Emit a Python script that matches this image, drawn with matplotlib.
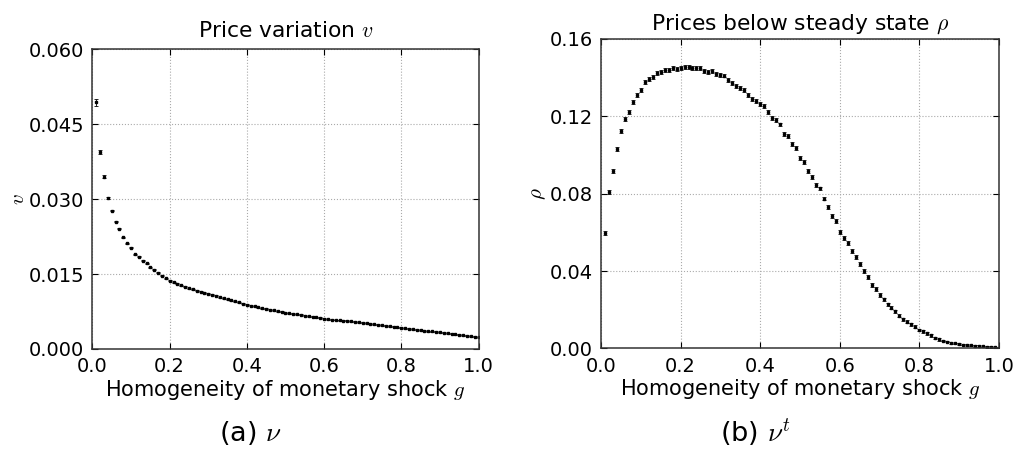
import matplotlib
matplotlib.use('Agg')
import matplotlib.pyplot as plt
import numpy as np

plt.rcParams['mathtext.fontset'] = 'cm'
plt.rcParams['font.family'] = 'DejaVu Sans'

# homogeneity of the monetary shock
g = [round(0.01 * i, 2) for i in range(1, 101)]

# price variation v
v = [0.0494, 0.0394, 0.0345, 0.0302, 0.0277, 0.0255, 0.0241, 0.0224, 0.0212, 0.0203,
     0.0190, 0.0185, 0.0177, 0.0172, 0.0164, 0.0159, 0.0153, 0.0147, 0.0142, 0.0137,
     0.0134, 0.0131, 0.0128, 0.0125, 0.0122, 0.0120, 0.0117, 0.0115, 0.0113, 0.0111,
     0.0109, 0.0107, 0.0104, 0.0102, 0.0100, 0.0098, 0.0096, 0.0094, 0.0091, 0.0089,
     0.0087, 0.0086, 0.0084, 0.0082, 0.0081, 0.0079, 0.0078, 0.0076, 0.0075, 0.0073,
     0.0072, 0.0071, 0.0070, 0.0069, 0.0067, 0.0066, 0.0065, 0.0064, 0.0063, 0.0061,
     0.0060, 0.0059, 0.0058, 0.0057, 0.0056, 0.0056, 0.0055, 0.0054, 0.0053, 0.0052,
     0.0051, 0.0050, 0.0049, 0.0048, 0.0047, 0.0046, 0.0045, 0.0044, 0.0043, 0.0042,
     0.0041, 0.0040, 0.0039, 0.0038, 0.0037, 0.0036, 0.0035, 0.0035, 0.0034, 0.0033,
     0.0032, 0.0031, 0.0030, 0.0029, 0.0028, 0.0027, 0.0026, 0.0025, 0.0024, 0.0023]
v_err = [0.0007, 0.0004, 0.0003, 0.0002, 0.00015] + [0.0001] * 95

# prices below steady state rho
rho = [0.0595, 0.0807, 0.0919, 0.1033, 0.1126, 0.1185, 0.1224, 0.1274, 0.1311, 0.1337,
       0.1376, 0.1393, 0.1404, 0.1424, 0.1428, 0.1438, 0.1440, 0.1448, 0.1447, 0.1452,
       0.1457, 0.1456, 0.1452, 0.1452, 0.1452, 0.1436, 0.1430, 0.1434, 0.1417, 0.1414,
       0.1411, 0.1390, 0.1371, 0.1355, 0.1347, 0.1338, 0.1309, 0.1288, 0.1278, 0.1262,
       0.1254, 0.1224, 0.1193, 0.1179, 0.1158, 0.1110, 0.1100, 0.1058, 0.1038, 0.0984,
       0.0962, 0.0917, 0.0886, 0.0846, 0.0827, 0.0775, 0.0730, 0.0683, 0.0657, 0.0600,
       0.0569, 0.0547, 0.0504, 0.0471, 0.0435, 0.0402, 0.0368, 0.0327, 0.0305, 0.0276,
       0.0254, 0.0228, 0.0211, 0.0192, 0.0169, 0.0151, 0.0138, 0.0125, 0.0112, 0.0095,
       0.0088, 0.0078, 0.0068, 0.0054, 0.0047, 0.0040, 0.0035, 0.0029, 0.0026, 0.0023,
       0.0019, 0.0017, 0.0015, 0.0013, 0.0011, 0.0010, 0.0008, 0.0007, 0.0005, 0.0004]
rho_err = [0.0010] * 70 + [0.0007] * 15 + [0.0004] * 15

fig = plt.figure(figsize=(10.16, 4.55), dpi=100)
ax1 = fig.add_axes([0.091, 0.233, 0.380, 0.659])
ax2 = fig.add_axes([0.5915, 0.2343, 0.3917, 0.680])


def style(ax):
    ax.grid(True, linestyle=':', color='#aaaaaa', linewidth=0.8)
    ax.tick_params(direction='in', top=True, right=True, labelsize=14, length=4, pad=6)
    for s in ax.spines.values():
        s.set_color('#333333')
        s.set_linewidth(1.1)
    ax.set_xlim(0, 1)
    ax.set_xticks([0.0, 0.2, 0.4, 0.6, 0.8, 1.0])
    ax.set_xlabel('Homogeneity of monetary shock $g$', fontsize=15, labelpad=1)


ax1.errorbar(g, v, yerr=v_err, fmt='s', color='k', markersize=1.8,
             elinewidth=0.6, capsize=1.5, capthick=0.6)
style(ax1)
ax1.set_ylim(0, 0.06)
ax1.set_yticks([0.0, 0.015, 0.030, 0.045, 0.060])
ax1.set_yticklabels(['0.000', '0.015', '0.030', '0.045', '0.060'])
ax1.set_ylabel('$v$', fontsize=15, labelpad=0)
ax1.set_title('Price variation $v$', fontsize=15.7, pad=9)

ax2.errorbar(g, rho, yerr=rho_err, fmt='s', color='k', markersize=1.8,
             elinewidth=0.6, capsize=1.5, capthick=0.6)
style(ax2)
ax2.set_ylim(0, 0.16)
ax2.set_yticks([0.0, 0.04, 0.08, 0.12, 0.16])
ax2.set_yticklabels(['0.00', '0.04', '0.08', '0.12', '0.16'])
ax2.set_ylabel(r'$\rho$', fontsize=15, labelpad=1)
ax2.set_title(r'Prices below steady state $\rho$', fontsize=15.7, pad=7)

fig.text(0.246, 0.03, r'(a) $\nu$', fontsize=19.5, ha='center')
fig.text(0.743, 0.03, r'(b) $\nu^t$', fontsize=19.5, ha='center')

fig.savefig('out.png', dpi=100)
